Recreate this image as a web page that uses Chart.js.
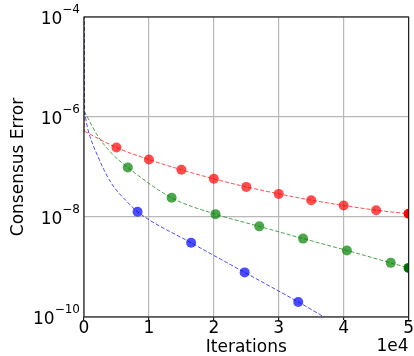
<!DOCTYPE html>
<html>
<head>
<meta charset="utf-8">
<script src="https://cdn.jsdelivr.net/npm/chart.js@4.4.0/dist/chart.umd.min.js"></script>
<style>
  html, body { margin: 0; padding: 0; background: #fff; }
  #wrap { width: 414px; height: 356px; }
</style>
</head>
<body>
<div id="wrap"><canvas id="errorChart" width="414" height="356"></canvas></div>
<script>
// values (iterations vs consensus error)
// first point of each curve is the near-vertical drop at iteration 0
const redLineX = [0, 50, 5000, 10000, 15000, 20000, 25000, 30000, 35000, 40000, 45000, 50000];
const redLineY = [1e-3, 5.2e-7, 2.45e-7, 1.41e-7, 8.8e-8, 5.8e-8, 4.0e-8, 2.9e-8, 2.17e-8, 1.7e-8, 1.37e-8, 1.16e-8];
const redMarkX = [5000, 10000, 15000, 20000, 25000, 30000, 35000, 40000, 45000, 50000];
const redMarkY = [2.45e-7, 1.41e-7, 8.8e-8, 5.8e-8, 4.0e-8, 2.9e-8, 2.17e-8, 1.7e-8, 1.37e-8, 1.16e-8];

const greenLineX = [0, 50, 2150, 4190, 6750, 13500, 20250, 27000, 33750, 40500, 47250, 50000];
const greenLineY = [1e-3, 1.3e-6, 4.13e-7, 1.92e-7, 9.8e-8, 2.42e-8, 1.14e-8, 6.5e-9, 3.7e-9, 2.14e-9, 1.21e-9, 9.6e-10];
const greenMarkX = [6750, 13500, 20250, 27000, 33750, 40500, 47250, 50000];
const greenMarkY = [9.8e-8, 2.42e-8, 1.14e-8, 6.5e-9, 3.7e-9, 2.14e-9, 1.21e-9, 9.6e-10];

const blueLineX = [0, 50, 614, 2150, 4140, 6750, 8250, 16500, 24750, 33000, 37000, 40000];
const blueLineY = [1e-3, 1.3e-6, 5.6e-7, 1.62e-7, 4.9e-8, 1.95e-8, 1.27e-8, 3.05e-9, 7.8e-10, 2.0e-10, 1.0e-10, 6e-11];
const blueMarkX = [8250, 16500, 24750, 33000];
const blueMarkY = [1.27e-8, 3.05e-9, 7.8e-10, 2.0e-10];

const xTicks = [0, 10000, 20000, 30000, 40000, 50000];
const yTicks = [1e-10, 1e-8, 1e-6, 1e-4];
const offsetText = '1e4';

const FONT = '"DejaVu Sans", sans-serif';

function pts(xs, ys) {
    return xs.map((x, i) => ({ x: x, y: ys[i] }));
}

function lineSet(xs, ys, color, smooth) {
    return {
        data: pts(xs, ys),
        showLine: true,
        borderColor: color,
        borderWidth: 1,
        borderDash: [4, 2],
        pointRadius: 0,
        cubicInterpolationMode: smooth ? 'monotone' : 'default',
        tension: 0
    };
}

function markSet(xs, ys, color, endColor) {
    return {
        data: pts(xs, ys),
        showLine: false,
        pointRadius: 5,
        pointHoverRadius: 5,
        pointBorderWidth: 0,
        pointBackgroundColor: ctx => (ctx.dataIndex === xs.length - 1 && xs[xs.length - 1] === 50000) ? endColor : color
    };
}

const framePlugin = {
    id: 'frame',
    afterDraw(chart) {
        const { ctx, chartArea: a } = chart;
        const yScale = chart.scales.y;
        ctx.save();
        ctx.strokeStyle = '#222';
        ctx.lineWidth = 1.2;
        ctx.strokeRect(a.left, a.top, a.right - a.left, a.bottom - a.top);
        ctx.fillStyle = '#000';
        ctx.font = '17px ' + FONT;
        ctx.textAlign = 'right';
        ctx.textBaseline = 'middle';
        ctx.fillText(offsetText, a.right, 347);

        // y tick labels as 10 with a raised exponent
        ctx.textBaseline = 'alphabetic';
        ctx.textAlign = 'left';
        yTicks.forEach(v => {
            const py = yScale.getPixelForValue(v);
            const exp = '\u2212' + String(Math.round(-Math.log10(v)));
            ctx.font = '12px ' + FONT;
            const we = ctx.measureText(exp).width;
            ctx.font = '17px ' + FONT;
            const wb = ctx.measureText('10').width;
            const x0 = a.left - 4 - we - wb;
            ctx.fillText('10', x0, py + 6.5);
            ctx.font = '12px ' + FONT;
            ctx.fillText(exp, x0 + wb, py - 4);
        });
        ctx.restore();
    }
};

const ctx = document.getElementById('errorChart').getContext('2d');

new Chart(ctx, {
    type: 'scatter',
    data: {
        datasets: [
            markSet(blueMarkX, blueMarkY, 'rgba(0,0,255,0.7)', 'rgb(0,0,255)'),
            markSet(greenMarkX, greenMarkY, 'rgba(0,128,0,0.7)', 'rgb(0,110,0)'),
            markSet(redMarkX, redMarkY, 'rgba(255,0,0,0.7)', 'rgb(255,0,0)'),
            lineSet(blueLineX.slice(1), blueLineY.slice(1), 'rgba(0,0,255,0.7)', true),
            lineSet(greenLineX.slice(1), greenLineY.slice(1), 'rgba(0,128,0,0.7)', true),
            lineSet(redLineX.slice(1), redLineY.slice(1), 'rgba(255,0,0,0.7)', true),
            lineSet(blueLineX.slice(0, 2), blueLineY.slice(0, 2), 'rgba(0,0,255,0.7)', false),
            lineSet(greenLineX.slice(0, 2), greenLineY.slice(0, 2), 'rgba(0,128,0,0.7)', false),
            lineSet(redLineX.slice(0, 2), redLineY.slice(0, 2), 'rgba(255,0,0,0.7)', false)
        ]
    },
    options: {
        responsive: false,
        animation: false,
        events: [],
        layout: { padding: { top: 17, right: 4, left: 0, bottom: 0 } },
        plugins: { legend: { display: false }, tooltip: { enabled: false } },
        scales: {
            x: {
                type: 'linear',
                min: 0,
                max: 50000,
                afterBuildTicks: axis => { axis.ticks = xTicks.map(v => ({ value: v })); },
                afterFit: s => { s.height = 39; },
                border: { display: false },
                grid: { color: '#b8b8b8', lineWidth: 1.2, drawTicks: true, tickLength: 3, tickColor: '#222' },
                ticks: {
                    color: '#000',
                    padding: 0,
                    maxRotation: 0,
                    font: { family: FONT, size: 17, lineHeight: 1 },
                    callback: v => String(v / 10000)
                },
                title: {
                    display: true,
                    text: 'Iterations',
                    color: '#000',
                    padding: { top: 0, bottom: 0 },
                    font: { family: FONT, size: 17, lineHeight: 1 }
                }
            },
            y: {
                type: 'logarithmic',
                min: 1e-10,
                max: 1e-4,
                afterBuildTicks: axis => { axis.ticks = yTicks.map(v => ({ value: v })); },
                afterFit: s => { s.width = 84; },
                border: { display: false },
                grid: { color: '#b8b8b8', lineWidth: 1.2, drawTicks: false },
                ticks: { display: false },
                title: {
                    display: true,
                    text: 'Consensus Error',
                    color: '#000',
                    padding: { top: 8, bottom: 0 },
                    font: { family: FONT, size: 17, lineHeight: 1.2 }
                }
            }
        }
    },
    plugins: [framePlugin]
});
</script>
</body>
</html>
